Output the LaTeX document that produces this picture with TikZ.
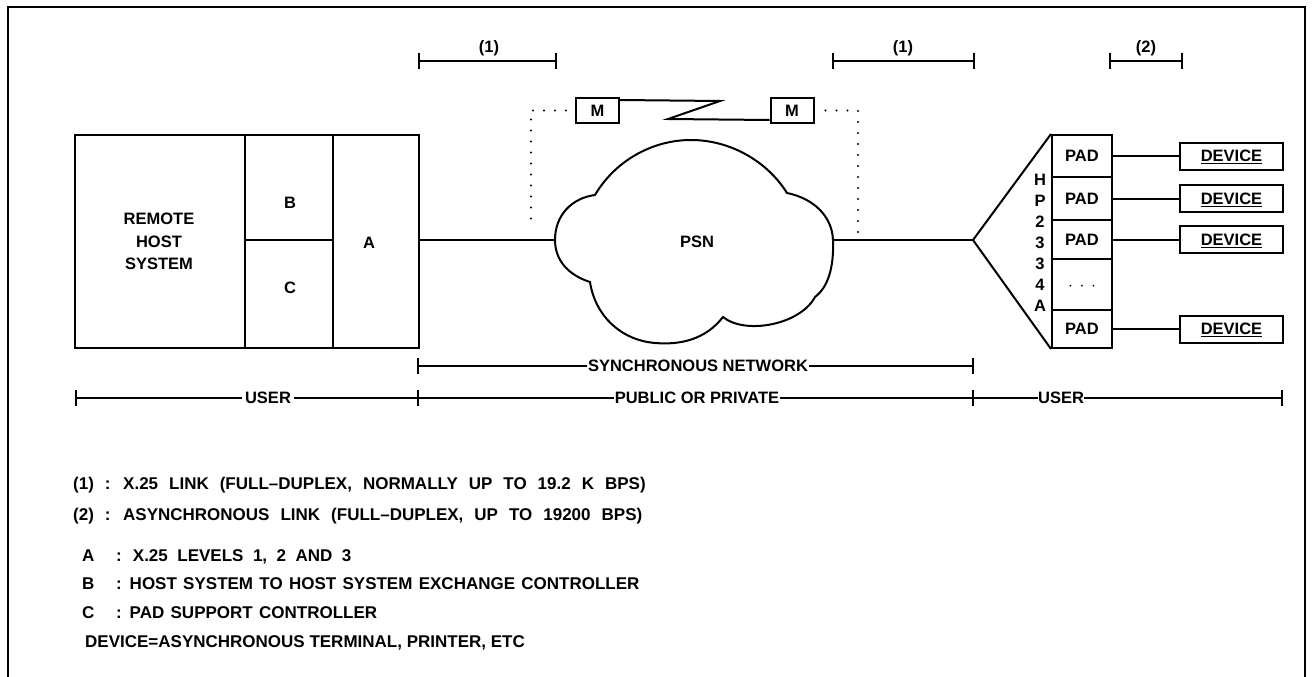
\documentclass[tikz,border=0pt]{standalone}
\usepackage{fontspec}
\setmainfont{Liberation Sans}
\usetikzlibrary{arrows.meta,calc}
\newcommand\dgfont{\bfseries\fontsize{16.5}{19}\selectfont}
\newcommand\lgfont{\bfseries\fontsize{17}{20}\selectfont}
\begin{document}
\begin{tikzpicture}[x=1pt,y=-1pt,
  ln/.style={line width=2pt},
  box/.style={draw,line width=2pt,inner sep=0pt},
  lbl/.style={font=\dgfont,inner sep=0pt,text height=11.8pt,text depth=0pt},
  leg/.style={font=\lgfont,inner sep=0pt,anchor=west,text height=12pt,text depth=0pt},
  legwide/.style={leg,font={\lgfont\spaceskip=11pt\relax}},
  legmid/.style={leg,font={\lgfont\spaceskip=9.5pt\relax}},
  legsoft/.style={leg,font={\lgfont\spaceskip=6.3pt\relax}},
  dots/.style={line width=2.3pt,line cap=round,dash pattern=on 0pt off 11pt},
  span/.style={line width=2pt},
  tick/.style={line width=2pt},
  gapl/.style={lbl,fill=white,inner xsep=3pt}
]
\useasboundingbox (0,0) rectangle (1312,677);
\fill[white] (0,0) rectangle (1312,677);
\draw[ln] (8,677) -- (8,7) -- (1305,7) -- (1305,677);

% host block
\node[box,minimum width=170pt,minimum height=213pt] (host) at (160,241.5) {};
\node[box,minimum width=88pt,minimum height=105pt] (bb) at (289,187.5) {};
\node[box,minimum width=88pt,minimum height=108pt] (cc) at (289,294) {};
\node[box,minimum width=86pt,minimum height=213pt] (aa) at (376,241.5) {};
\node[lbl] (h1) at (159,219) {REMOTE};
\node[lbl] (h2) at (159,241.5) {HOST};
\node[lbl] (h3) at (159,264) {SYSTEM};
\node[lbl] (tb) at (290,203) {B};
\node[lbl] (tc) at (290,288) {C};
\node[lbl] (ta) at (369,243) {A};

% cloud
\coordinate (cl) at (555,240);
\coordinate (cr) at (833,240);
\draw[ln] (aa.east |- cl) -- (cl);
\draw[ln] (cl) .. controls (555,215) and (572,198) .. (595,195)
  .. controls (615,161) and (652,140) .. (691,140)
  .. controls (730,140) and (767,161) .. (787,193)
  .. controls (812,198) and (832,215) .. (cr)
  .. controls (834,268) and (828,287) .. (815,297)
  .. controls (800,325) and (745,335) .. (723,317)
  .. controls (705,340) and (680,345) .. (655,343)
  .. controls (620,340) and (595,315) .. (590,282)
  .. controls (568,275) and (555,260) .. cycle;
\node[lbl] (psn) at (697,242) {PSN};

% modems
\node[box,lbl,minimum width=43pt,minimum height=25pt] (ml) at (597.5,110.5) {M};
\node[box,lbl,minimum width=43pt,minimum height=25pt] (mr) at (792,110.5) {M};
\draw[ln] ($(ml.north east)+(0,3)$) -- (720,101) -- (668,119) -- ($(mr.south west)+(0,-4)$);
\coordinate (dl) at (531,228);
\coordinate (dr) at (858,235);
\draw[dots] ($(ml.west)+(-9,0)$) -| (dl);
\draw[dots] ($(mr.east)+(11,0)$) -| (dr);

% top spans
\coordinate (b1a) at (419,61); \coordinate (b1b) at (556,61);
\coordinate (b2a) at (833,61); \coordinate (b2b) at (974,61);
\coordinate (b3a) at (1110,61); \coordinate (b3b) at (1182,61);
\draw[span] (b1a) -- (b1b);
\draw[span] (b2a) -- (b2b);
\draw[span] (b3a) -- (b3b);
\foreach \p in {b1a,b1b,b2a,b2b,b3a,b3b}
  \draw[tick] ($(\p)+(0,-8)$) -- ($(\p)+(0,8)$);
\node[lbl] (l1) at (489,47) {(1)};
\node[lbl] (l2) at (903,47) {(1)};
\node[lbl] (l3) at (1146,47) {(2)};

% HP2334A and PADs
\coordinate (ap) at (973,240);
\node[box,lbl,minimum width=60pt,minimum height=42pt] (pad1) at (1082,156) {PAD};
\node[box,lbl,minimum width=60pt,minimum height=43pt] (pad2) at (1082,198.5) {PAD};
\node[box,lbl,minimum width=60pt,minimum height=39pt] (pad3) at (1082,239.5) {PAD};
\node[box,lbl,minimum width=60pt,minimum height=51pt] (padd) at (1082,284.5) {$\cdot\,\cdot\,\cdot$};
\node[box,lbl,minimum width=60pt,minimum height=38pt] (pad5) at (1082,329) {PAD};
\draw[ln] (cr) -- (ap);
\draw[ln] (pad1.north west) -- (ap) -- (pad5.south west);
\foreach \c [count=\i] in {H,P,2,3,3,4,A}
  \node[lbl] (hp\i) at (1040,{159+21*\i}) {\c};

\node[box,lbl,minimum width=103pt,minimum height=27pt] (dev1) at (1231.5,156) {\underline{DEVICE}};
\node[box,lbl,minimum width=103pt,minimum height=27pt] (dev2) at (1231.5,198.5) {\underline{DEVICE}};
\node[box,lbl,minimum width=103pt,minimum height=27pt] (dev3) at (1231.5,239.5) {\underline{DEVICE}};
\node[box,lbl,minimum width=103pt,minimum height=27pt] (dev5) at (1231.5,329) {\underline{DEVICE}};
\draw[ln] (pad1) -- (dev1);
\draw[ln] (pad2) -- (dev2);
\draw[ln] (pad3) -- (dev3);
\draw[ln] (pad5) -- (dev5);

% bottom spans
\coordinate (s1) at (418,366); \coordinate (s2) at (973,366);
\draw[span] (s1) -- (s2);
\foreach \p in {s1,s2}
  \draw[tick] ($(\p)+(0,-8)$) -- ($(\p)+(0,8)$);
\node[gapl,inner xsep=1pt] (sn) at (698,366) {SYNCHRONOUS NETWORK};
\coordinate (u0) at (76,398); \coordinate (u1) at (418,398);
\coordinate (u2) at (973,398); \coordinate (u3) at (1282,398);
\draw[span] (u0) -- (u3);
\foreach \p in {u0,u1,u2,u3}
  \draw[tick] ($(\p)+(0,-8)$) -- ($(\p)+(0,8)$);
\node[gapl] (us1) at (268,398) {USER};
\node[gapl,inner xsep=1pt] (pp) at (697,398) {PUBLIC OR PRIVATE};
\node[gapl,anchor=west,inner xsep=0pt] (us2) at (1038,398) {USER\hspace{9pt}};

% legend
\node[legwide] (g1) at (73,483) {(1) : X.25 LINK (FULL--DUPLEX, NORMALLY UP TO 19.2 K BPS)};
\node[legwide] (g2) at (73,514) {(2) : ASYNCHRONOUS LINK (FULL--DUPLEX, UP TO 19200 BPS)};
\node[leg] (ga) at (82,555) {A};
\node[legmid] (gat) at (116,555) {: X.25 LEVELS 1, 2 AND 3};
\node[leg] (gb) at (82,583) {B};
\node[legsoft] (gbt) at (116,583) {: HOST SYSTEM TO HOST SYSTEM EXCHANGE CONTROLLER};
\node[leg] (gc) at (82,612) {C};
\node[legsoft] (gct) at (116,612) {: PAD SUPPORT CONTROLLER};
\node[leg] (gd) at (85,641) {DEVICE=ASYNCHRONOUS TERMINAL, PRINTER, ETC};
\end{tikzpicture}
\end{document}
